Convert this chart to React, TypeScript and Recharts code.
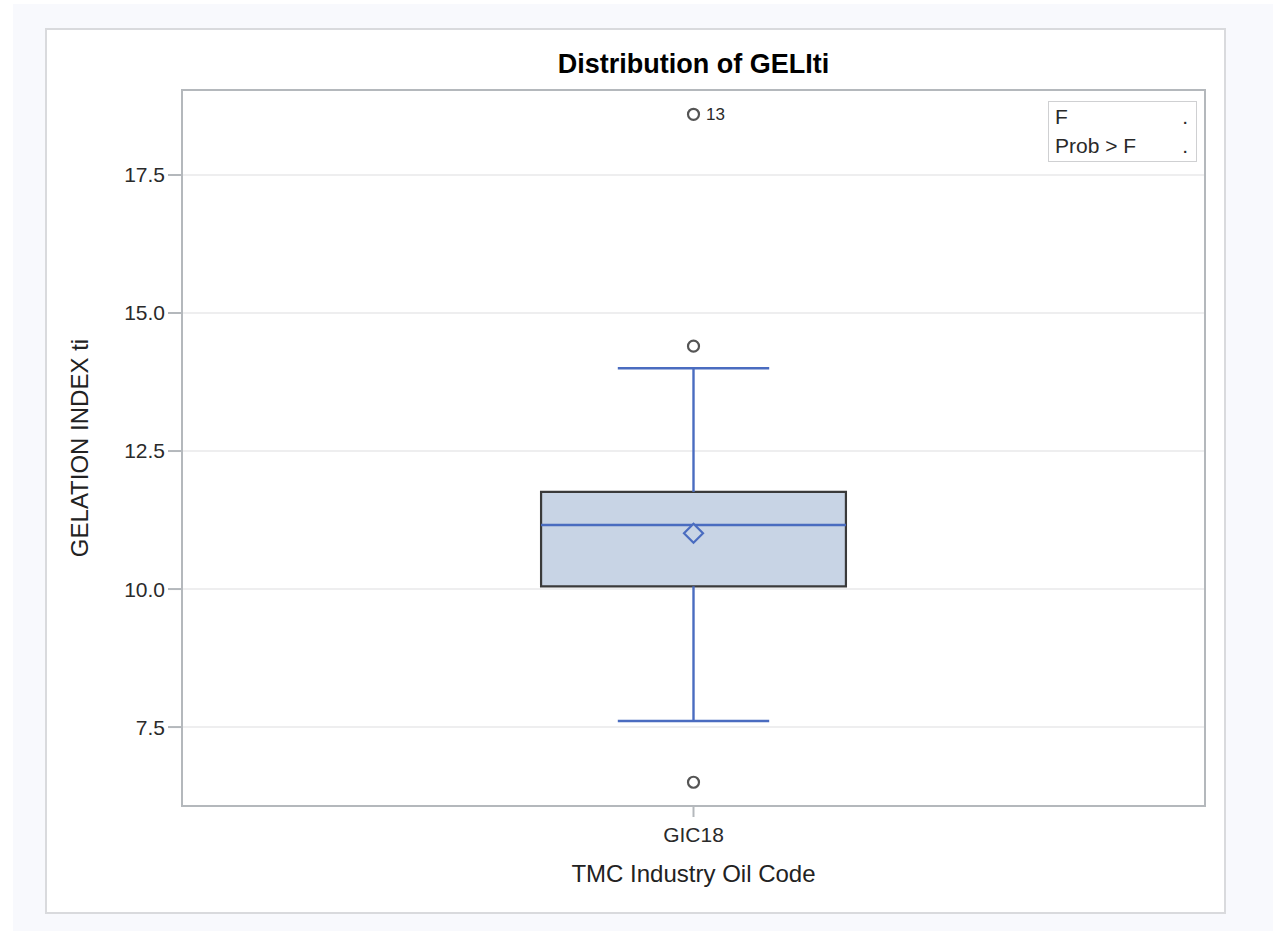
import {
  CartesianGrid,
  ComposedChart,
  LabelList,
  ReferenceArea,
  ReferenceLine,
  Scatter,
  XAxis,
  YAxis,
} from "recharts";

// Box plot summary for GELATION INDEX ti, one category
const categories = ["GIC18"];
const q1 = [10.05];
const medians = [11.16];
const q3 = [11.76];
const means = [11.01];
const whiskerLow = [7.61];
const whiskerHigh = [14.0];

const outlierCats = [0, 0, 0];
const outlierValues = [18.6, 14.4, 6.5];
const outlierLabels = ["13", "", ""];

const yTicks = [7.5, 10, 12.5, 15, 17.5];
const yDomain: [number, number] = [6.07, 19.04];

const BLUE = "#4a6cc0";
const BOX_FILL = "#c8d4e5";
const GRAY_AXIS = "#b4b8bc";
const FONT = "'Liberation Sans', Arial, sans-serif";
const BOX_HALF = 0.149;
const CAP_HALF = 0.074;

const pos = (i: number) => i + 0.5;

const outliers = outlierValues.map((v, i) => ({
  x: pos(outlierCats[i]),
  y: v,
  label: outlierLabels[i],
}));
const meanPoints = means.map((v, i) => ({ x: pos(i), y: v }));

function OutlierDot(props: any) {
  const { cx, cy } = props;
  if (cx == null || cy == null) return null;
  return <circle cx={cx} cy={cy} r={5.5} fill="#fff" stroke="#555" strokeWidth={2.2} />;
}

function MeanDiamond(props: any) {
  const { cx, cy } = props;
  if (cx == null || cy == null) return null;
  const r = 9.5;
  return (
    <polygon
      points={`${cx},${cy - r} ${cx + r},${cy} ${cx},${cy + r} ${cx - r},${cy}`}
      fill={BOX_FILL}
      stroke={BLUE}
      strokeWidth={2.2}
    />
  );
}

export default function App() {
  return (
    <div
      style={{
        position: "absolute",
        left: 0,
        top: 0,
        width: 1273,
        height: 931,
        background: "#fff",
        fontFamily: FONT,
      }}
    >
      <div
        style={{
          position: "absolute",
          left: 13,
          top: 4,
          right: 0,
          bottom: 0,
          background: "#f8f9fd",
        }}
      />
      <div
        style={{
          position: "absolute",
          left: 45,
          top: 28,
          width: 1181,
          height: 886,
          background: "#fff",
          border: "2px solid #d9dadd",
          boxSizing: "border-box",
        }}
      />
      <div
        style={{
          position: "absolute",
          left: 182,
          top: 51,
          width: 1023,
          textAlign: "center",
          fontWeight: 700,
          fontSize: 27,
          lineHeight: "27px",
          color: "#000",
        }}
      >
        Distribution of GELIti
      </div>

      <ComposedChart
        width={1273}
        height={931}
        margin={{ top: 90, right: 68, bottom: 45, left: 0 }}
        style={{ position: "absolute", left: 0, top: 0 }}
      >
        <CartesianGrid horizontal vertical={false} stroke="#e9e9ea" strokeWidth={1.5} />
        <XAxis
          type="number"
          dataKey="x"
          domain={[0, categories.length]}
          ticks={categories.map((_, i) => pos(i))}
          tickFormatter={(v: number) => categories[Math.round(v - 0.5)] ?? ""}
          height={80}
          tickSize={11}
          tickMargin={10}
          stroke={GRAY_AXIS}
          strokeWidth={2}
          tick={{ fill: "#2a2a2a", fontSize: 21, fontFamily: FONT }}
          label={{
            value: "TMC Industry Oil Code",
            position: "insideBottom",
            offset: 4,
            fill: "#222",
            fontSize: 24,
            fontFamily: FONT,
          }}
        />
        <YAxis
          type="number"
          dataKey="y"
          domain={yDomain}
          ticks={yTicks}
          allowDataOverflow
          tickFormatter={(v: number) => v.toFixed(1)}
          width={182}
          tickSize={14}
          tickMargin={3}
          stroke={GRAY_AXIS}
          strokeWidth={2}
          tick={{ fill: "#2a2a2a", fontSize: 21, fontFamily: FONT }}
          label={{
            value: "GELATION INDEX ti",
            angle: -90,
            position: "center",
            dx: -12,
            fill: "#222",
            fontSize: 24,
            fontFamily: FONT,
          }}
        />

        {/* plot frame */}
        <ReferenceArea
          x1={0}
          x2={categories.length}
          y1={yDomain[0]}
          y2={yDomain[1]}
          fill="none"
          stroke={GRAY_AXIS}
          strokeWidth={2}
        />

        {categories.map((c, i) => (
          <ReferenceLine
            key={`wl-${c}`}
            segment={[
              { x: pos(i), y: whiskerLow[i] },
              { x: pos(i), y: q1[i] },
            ]}
            stroke={BLUE}
            strokeWidth={2.4}
          />
        ))}
        {categories.map((c, i) => (
          <ReferenceLine
            key={`wh-${c}`}
            segment={[
              { x: pos(i), y: q3[i] },
              { x: pos(i), y: whiskerHigh[i] },
            ]}
            stroke={BLUE}
            strokeWidth={2.4}
          />
        ))}
        {categories.map((c, i) => (
          <ReferenceLine
            key={`cl-${c}`}
            segment={[
              { x: pos(i) - CAP_HALF, y: whiskerLow[i] },
              { x: pos(i) + CAP_HALF, y: whiskerLow[i] },
            ]}
            stroke={BLUE}
            strokeWidth={2.4}
          />
        ))}
        {categories.map((c, i) => (
          <ReferenceLine
            key={`ch-${c}`}
            segment={[
              { x: pos(i) - CAP_HALF, y: whiskerHigh[i] },
              { x: pos(i) + CAP_HALF, y: whiskerHigh[i] },
            ]}
            stroke={BLUE}
            strokeWidth={2.4}
          />
        ))}
        {categories.map((c, i) => (
          <ReferenceArea
            key={`box-${c}`}
            x1={pos(i) - BOX_HALF}
            x2={pos(i) + BOX_HALF}
            y1={q1[i]}
            y2={q3[i]}
            fill={BOX_FILL}
            fillOpacity={1}
            stroke="#3a3a3a"
            strokeWidth={2.2}
          />
        ))}
        {categories.map((c, i) => (
          <ReferenceLine
            key={`med-${c}`}
            segment={[
              { x: pos(i) - BOX_HALF, y: medians[i] },
              { x: pos(i) + BOX_HALF, y: medians[i] },
            ]}
            stroke={BLUE}
            strokeWidth={2.4}
          />
        ))}

        <Scatter data={meanPoints} shape={MeanDiamond} isAnimationActive={false} />
        <Scatter data={outliers} shape={OutlierDot} isAnimationActive={false}>
          <LabelList
            dataKey="label"
            position="right"
            offset={8}
            fill="#2a2a2a"
            fontSize={17}
            fontFamily={FONT}
          />
        </Scatter>
      </ComposedChart>

      <div
        style={{
          position: "absolute",
          left: 1048,
          top: 101,
          width: 149,
          height: 61,
          border: "1.5px solid #cfd0d2",
          boxSizing: "border-box",
          fontSize: 21,
          lineHeight: "29px",
          color: "#2a2a2a",
          background: "#fff",
        }}
      >
        <div style={{ display: "flex", justifyContent: "space-between", padding: "0 8px 0 6px" }}>
          <span>F</span>
          <span>.</span>
        </div>
        <div style={{ display: "flex", justifyContent: "space-between", padding: "0 8px 0 6px" }}>
          <span>Prob &gt; F</span>
          <span>.</span>
        </div>
      </div>
    </div>
  );
}
